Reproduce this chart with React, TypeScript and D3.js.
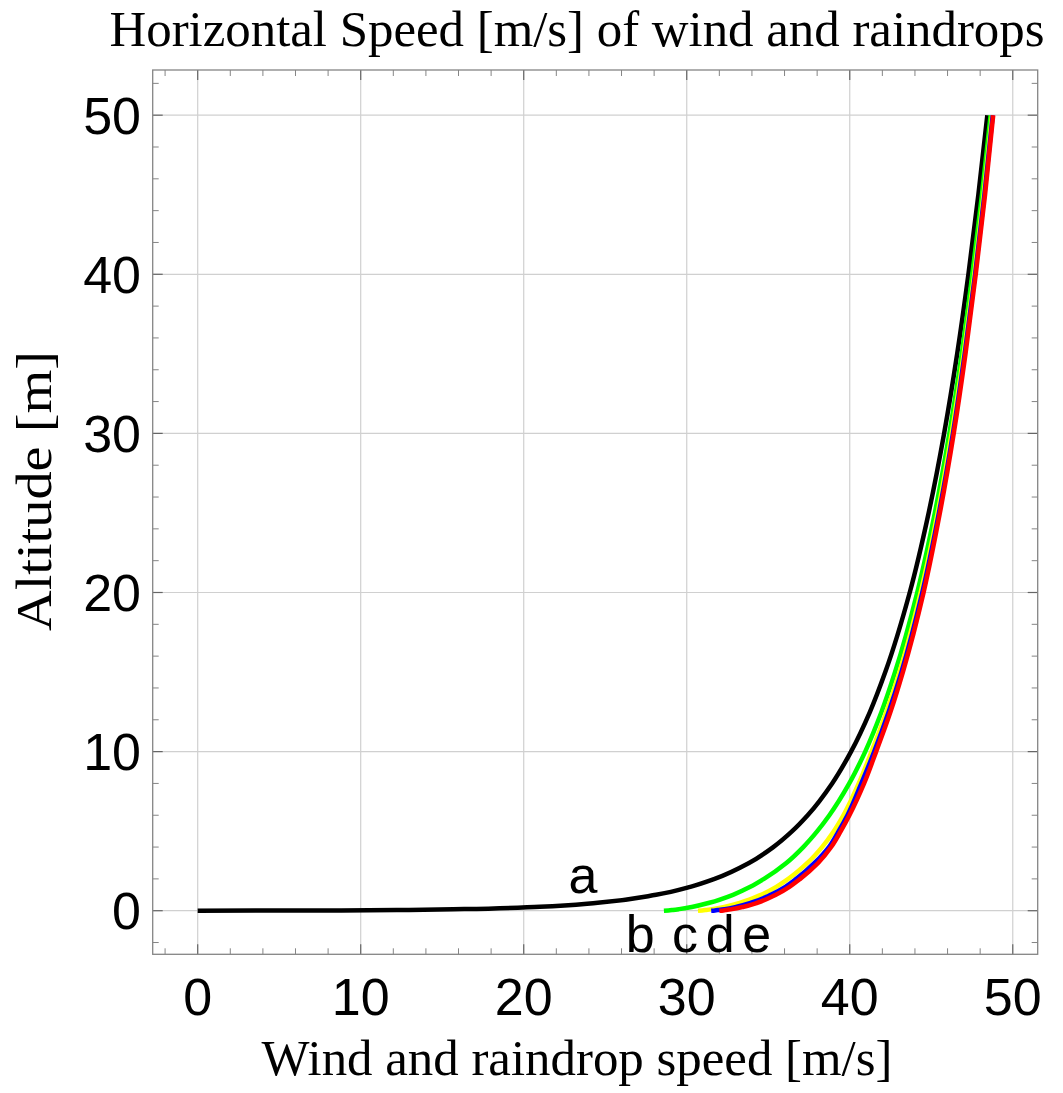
import React from "react";
import * as d3 from "d3";

// Altitudes [m] at which speeds are sampled
const altitudes = [0, 0.02, 0.05, 0.1, 0.25, 0.5, 1, 1.5, 2, 3, 4, 5, 6, 8, 10, 12.5, 15, 20, 25, 30, 35, 40, 45, 50];

// Horizontal speeds [m/s]
const speedA = [0, 8.8, 12.96, 16.35, 20.99, 24.54, 28.12, 30.22, 31.71, 33.82, 35.31, 36.47, 37.42, 38.92, 40.08, 41.24, 42.18, 43.68, 44.84, 45.79, 46.59, 47.28, 47.89, 48.44];
const speedB = [28.6, 28.87, 29.15, 29.53, 30.38, 31.39, 32.84, 33.9, 34.74, 36.11, 37.15, 38.01, 38.75, 39.97, 40.95, 41.95, 42.78, 44.14, 45.22, 46.11, 46.87, 47.52, 48.11, 48.64];
const speedC = [30.69, 30.94, 31.2, 31.56, 32.36, 33.29, 34.56, 35.49, 36.23, 37.4, 38.3, 39.02, 39.61, 40.55, 41.34, 42.25, 43.05, 44.35, 45.39, 46.25, 46.99, 47.64, 48.21, 48.73];
const speedD = [31.5, 31.73, 31.96, 32.32, 33.07, 33.95, 35.15, 36.05, 36.72, 37.84, 38.72, 39.32, 39.86, 40.71, 41.5, 42.39, 43.17, 44.45, 45.47, 46.33, 47.05, 47.69, 48.26, 48.77];
const speedE = [32.0, 32.25, 32.44, 32.78, 33.5, 34.33, 35.47, 36.3, 36.96, 38.06, 38.86, 39.45, 39.98, 40.88, 41.62, 42.5, 43.26, 44.53, 45.53, 46.38, 47.1, 47.73, 48.3, 48.8];

const seriesNames = ["a", "b", "c", "d", "e"];
const seriesColors = ["#000000", "#00ff00", "#ffff00", "#0000ff", "#ff0000"];
const seriesSpeeds = [speedA, speedB, speedC, speedD, speedE];

// Curve label positions in data coords [speed, altitude]
const labelSpeeds = [23.64, 27.14, 29.9, 32.05, 34.3];
const labelAlts = [1.11, -2.58, -2.58, -2.58, -2.58];

const majorTicks = [0, 10, 20, 30, 40, 50];
const tickLabels = ["0", "10", "20", "30", "40", "50"];

const title = "Horizontal Speed [m/s] of wind and raindrops";
const xTitle = "Wind and raindrop speed [m/s]";
const yTitle = "Altitude [m]";

const W = 1063;
const H = 1093;
const L = 152.7, R = 1037.7, T = 70, B = 954.3;

export default function App() {
  const x = d3.scaleLinear().domain([-2.76, 51.53]).range([L, R]);
  const y = d3.scaleLinear().domain([-2.74, 52.84]).range([B, T]);

  const minorX = d3.range(-2, 52, 2).filter((v) => v % 10 !== 0);
  const minorY = d3.range(-2, 53, 2).filter((v) => v % 10 !== 0);

  const line = d3
    .line<[number, number]>()
    .x((d) => x(d[0]))
    .y((d) => y(d[1]))
    .curve(d3.curveMonotoneY);

  const sans = "'Liberation Sans', Arial, sans-serif";
  const serif = "'Liberation Serif', 'Times New Roman', serif";
  const frameColor = "#858585";
  const gridColor = "#d0d0d0";

  return (
    <svg width={W} height={H} style={{ position: "absolute", left: 0, top: 0, background: "#fff" }}>
      <rect x={0} y={0} width={W} height={H} fill="#fff" />
      {/* grid */}
      {majorTicks.map((t) => (
        <line key={"gx" + t} x1={x(t)} x2={x(t)} y1={T} y2={B} stroke={gridColor} strokeWidth={1.2} />
      ))}
      {majorTicks.map((t) => (
        <line key={"gy" + t} x1={L} x2={R} y1={y(t)} y2={y(t)} stroke={gridColor} strokeWidth={1.2} />
      ))}
      {/* minor ticks */}
      {minorX.map((t) => (
        <g key={"mx" + t}>
          <line x1={x(t)} x2={x(t)} y1={B} y2={B - 6} stroke={frameColor} strokeWidth={1} />
          <line x1={x(t)} x2={x(t)} y1={T} y2={T + 6} stroke={frameColor} strokeWidth={1} />
        </g>
      ))}
      {minorY.map((t) => (
        <g key={"my" + t}>
          <line x1={L} x2={L + 6} y1={y(t)} y2={y(t)} stroke={frameColor} strokeWidth={1} />
          <line x1={R} x2={R - 6} y1={y(t)} y2={y(t)} stroke={frameColor} strokeWidth={1} />
        </g>
      ))}
      {/* major ticks */}
      {majorTicks.map((t) => (
        <g key={"Mx" + t}>
          <line x1={x(t)} x2={x(t)} y1={B} y2={B - 10} stroke="#666" strokeWidth={1.2} />
          <line x1={x(t)} x2={x(t)} y1={T} y2={T + 10} stroke="#666" strokeWidth={1.2} />
          <line x1={L} x2={L + 10} y1={y(t)} y2={y(t)} stroke="#666" strokeWidth={1.2} />
          <line x1={R} x2={R - 10} y1={y(t)} y2={y(t)} stroke="#666" strokeWidth={1.2} />
        </g>
      ))}
      {/* frame */}
      <rect x={L} y={T} width={R - L} height={B - T} fill="none" stroke={frameColor} strokeWidth={1.3} />
      {/* curves */}
      {seriesSpeeds.map((sp, i) => (
        <path
          key={seriesNames[i]}
          d={line(altitudes.map((a, j) => [sp[j], a] as [number, number])) || ""}
          fill="none"
          stroke={seriesColors[i]}
          strokeWidth={4.5}
          strokeLinecap="butt"
        />
      ))}
      {/* curve labels */}
      {seriesNames.map((n, i) => (
        <text key={"lab" + n} x={x(labelSpeeds[i])} y={y(labelAlts[i])} fontFamily={sans} fontSize={52} textAnchor="middle" fill="#000">
          {n}
        </text>
      ))}
      {/* tick labels */}
      {majorTicks.map((t, i) => (
        <text key={"xl" + t} x={x(t)} y={1015} fontFamily={sans} fontSize={52} textAnchor="middle" fill="#000">
          {tickLabels[i]}
        </text>
      ))}
      {majorTicks.map((t, i) => (
        <text key={"yl" + t} x={141} y={y(t)} dy="0.36em" fontFamily={sans} fontSize={52} textAnchor="end" fill="#000">
          {tickLabels[i]}
        </text>
      ))}
      {/* titles */}
      <text x={577} y={46} fontFamily={serif} fontSize={50} textAnchor="middle" textLength={935} lengthAdjust="spacingAndGlyphs" fill="#000">
        {title}
      </text>
      <text x={577} y={1075} fontFamily={serif} fontSize={50} textAnchor="middle" textLength={631} lengthAdjust="spacingAndGlyphs" fill="#000">
        {xTitle}
      </text>
      <text transform="translate(51,491) rotate(-90)" fontFamily={serif} fontSize={50} textAnchor="middle" textLength={280} lengthAdjust="spacingAndGlyphs" fill="#000">
        {yTitle}
      </text>
    </svg>
  );
}
